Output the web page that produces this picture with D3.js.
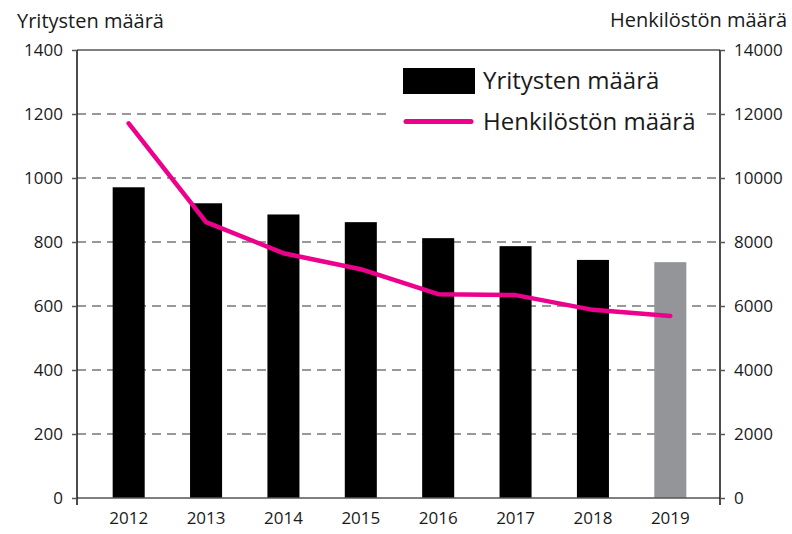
<!DOCTYPE html>
<html lang="fi">
<head>
<meta charset="UTF-8"/>
<title>Yritysten ja henkilöstön määrä</title>
<script src="https://d3js.org/d3.v7.min.js"></script>
<style>
    body { margin: 0; background: #fff; }
    svg text { font-family: "Open Sans", Lato, sans-serif; fill: #1a1a1a; }
</style>
</head>
<body>
<script>
    // data
    var years = ["2012", "2013", "2014", "2015", "2016", "2017", "2018", "2019"];
    var companies = [971, 921, 886, 862, 812, 787, 744, 737];
    var staff = [11710, 8620, 7650, 7150, 6370, 6340, 5880, 5690];
    var leftTicks = [0, 200, 400, 600, 800, 1000, 1200, 1400];
    var rightTicks = [0, 2000, 4000, 6000, 8000, 10000, 12000, 14000];

    var w = 792, h = 534;
    var plotLeft = 77, plotRight = 720, plotTop = 50, plotBottom = 498;
    var font = "'Open Sans', Lato, sans-serif";

    var svg = d3.select("body").append("svg")
        .attr("width", w)
        .attr("height", h);

    var x = d3.scaleBand()
        .domain(years)
        .range([90, 709])
        .paddingInner(0.586)
        .paddingOuter(0.293);

    var yL = d3.scaleLinear().domain([0, 1400]).range([plotBottom, plotTop]);
    var yR = d3.scaleLinear().domain([0, 14000]).range([plotBottom, plotTop]);

    // dashed gridlines
    svg.append("g")
        .selectAll("line")
        .data(leftTicks.filter(function(d) { return d > 0 && d < 1400; }))
        .enter()
        .append("line")
        .attr("x1", plotLeft)
        .attr("x2", plotRight)
        .attr("y1", function(d) { return yL(d); })
        .attr("y2", function(d) { return yL(d); })
        .attr("stroke", "#777")
        .attr("stroke-width", 1.6)
        .attr("stroke-dasharray", "9,6");

    // top frame line
    svg.append("line")
        .attr("x1", plotLeft).attr("x2", plotRight)
        .attr("y1", yL(1400)).attr("y2", yL(1400))
        .attr("stroke", "#555").attr("stroke-width", 1.5);

    // bars
    svg.selectAll("rect.bar")
        .data(companies)
        .enter()
        .append("rect")
        .attr("class", "bar")
        .attr("x", function(d, i) { return x(years[i]); })
        .attr("y", function(d) { return yL(d); })
        .attr("width", x.bandwidth())
        .attr("height", function(d) { return yL(0) - yL(d); })
        .attr("fill", function(d, i) { return i == years.length - 1 ? "#939598" : "#000"; });

    // baseline
    svg.append("line")
        .attr("x1", plotLeft).attr("x2", plotRight)
        .attr("y1", yL(0)).attr("y2", yL(0))
        .attr("stroke", "#555").attr("stroke-width", 1.5);

    // legend, white box over gridlines
    var lg = svg.append("g");
    lg.append("rect")
        .attr("x", 388).attr("y", 56)
        .attr("width", 318).attr("height", 84)
        .attr("fill", "#fff");
    lg.append("rect")
        .attr("x", 403).attr("y", 68)
        .attr("width", 72).attr("height", 26)
        .attr("fill", "#000");
    lg.append("text")
        .attr("x", 483).attr("y", 89)
        .attr("font-size", "24px")
        .text("Yritysten määrä");
    lg.append("line")
        .attr("x1", 406).attr("x2", 471)
        .attr("y1", 121.5).attr("y2", 121.5)
        .attr("stroke", "#ec008c")
        .attr("stroke-width", 5)
        .attr("stroke-linecap", "round");
    lg.append("text")
        .attr("x", 483).attr("y", 130)
        .attr("font-size", "24px")
        .text("Henkilöstön määrä");

    // staff line
    var line = d3.line()
        .x(function(d, i) { return x(years[i]) + x.bandwidth() / 2; })
        .y(function(d) { return yR(d); });

    svg.append("path")
        .datum(staff)
        .attr("d", line)
        .attr("fill", "none")
        .attr("stroke", "#ec008c")
        .attr("stroke-width", 4.5)
        .attr("stroke-linecap", "round")
        .attr("stroke-linejoin", "round");

    // axes
    var yAxisL = d3.axisLeft(yL).tickValues(leftTicks).tickFormat(d3.format("d"))
        .tickSize(5).tickPadding(9);
    var gL = svg.append("g")
        .attr("transform", "translate(" + plotLeft + ",0)")
        .call(yAxisL);

    var yAxisR = d3.axisRight(yR).tickValues(rightTicks).tickFormat(d3.format("d"))
        .tickSize(5).tickPadding(9);
    var gR = svg.append("g")
        .attr("transform", "translate(" + plotRight + ",0)")
        .call(yAxisR);

    [gL, gR].forEach(function(g) {
        g.select(".domain")
            .attr("d", "M0," + plotTop + "V" + (plotBottom + 7))
            .attr("stroke", "#111")
            .attr("stroke-width", 1.5);
        g.selectAll(".tick line").attr("stroke", "#555").attr("stroke-width", 1.5);
        g.selectAll("text")
            .attr("font-size", "17px")
            .attr("font-family", font)
            .attr("fill", "#1a1a1a");
    });

    var xAxis = d3.axisBottom(x).tickSize(0).tickPadding(14);
    var gX = svg.append("g")
        .attr("transform", "translate(0," + plotBottom + ")")
        .call(xAxis);
    gX.select(".domain").remove();
    gX.selectAll("text")
        .attr("font-size", "17px")
        .attr("font-family", font)
        .attr("fill", "#1a1a1a");

    // axis titles
    svg.append("text")
        .attr("x", 17).attr("y", 28)
        .attr("font-size", "20px")
        .text("Yritysten määrä");
    svg.append("text")
        .attr("x", 787).attr("y", 27)
        .attr("text-anchor", "end")
        .attr("font-size", "20px")
        .text("Henkilöstön määrä");
</script>
</body>
</html>
